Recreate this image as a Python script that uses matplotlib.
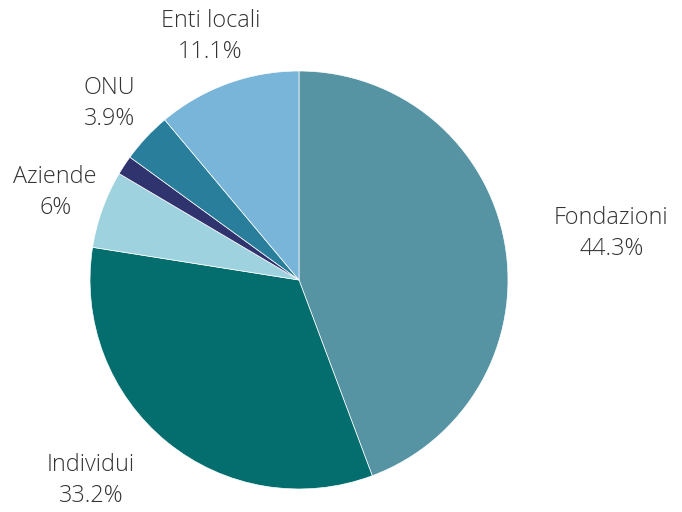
import matplotlib
matplotlib.use('Agg')
import matplotlib.pyplot as plt

# source shares (%), clockwise from 12 o'clock
labels = ['Fondazioni', 'Individui', 'Aziende', '', 'ONU', 'Enti locali']
values = [44.3, 33.2, 6.0, 1.5, 3.9, 11.1]
shown = ['44.3%', '33.2%', '6%', '', '3.9%', '11.1%']
colors = ['#5694a3', '#046e6f', '#9dd2de', '#30346e', '#287e9b', '#78b5d9']
align = ['left', 'right', 'center', 'center', 'center', 'center']

plt.rcParams['font.family'] = ['Open Sans', 'DejaVu Sans']

fig = plt.figure(figsize=(6.82, 5.12), dpi=100)
ax = fig.add_axes([90 / 682, 23 / 512, 418 / 682, 418 / 512])

texts = [l + '\n' + s if l else '' for l, s in zip(labels, shown)]
wedges, txts = ax.pie(values, labels=texts, colors=colors, startangle=90,
                      counterclock=False, labeldistance=1.24,
                      wedgeprops=dict(edgecolor='white', linewidth=0.5),
                      textprops=dict(fontsize=16.8, color='#333333',
                                     fontweight='light', linespacing=1.4))
for t, a in zip(txts, align):
    t.set_ha(a)
    t.set_va('center')
    t.set_multialignment('center')
for w in wedges:
    w.set_clip_on(False)

ax.set_xlim(-1, 1)
ax.set_ylim(-1, 1)

fig.savefig('out.png', dpi=100)
